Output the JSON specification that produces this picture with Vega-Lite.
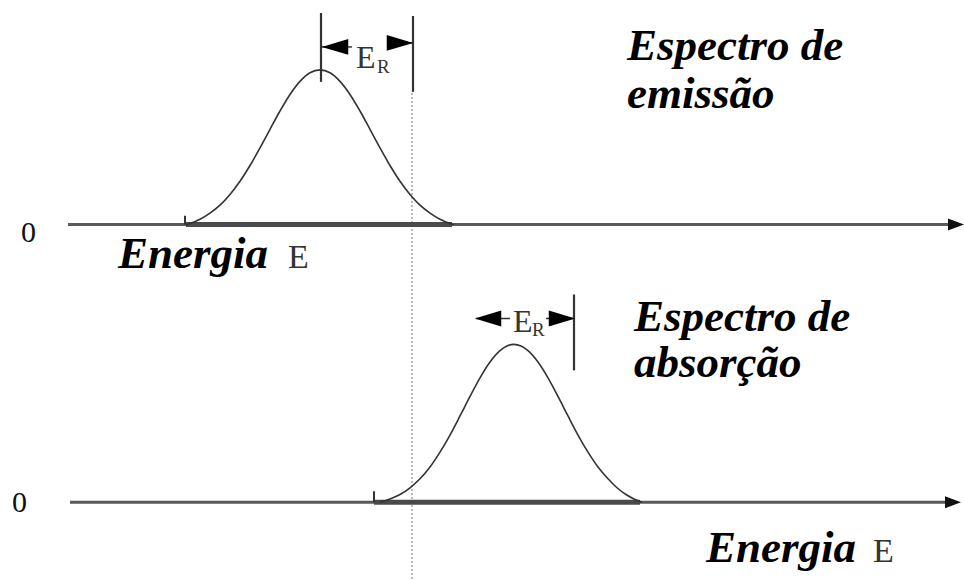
{
  "$schema": "https://vega.github.io/schema/vega-lite/v6.json",
  "width": 964,
  "height": 580,
  "padding": 0,
  "autosize": {"type": "fit", "contains": "padding"},
  "background": "white",
  "config": {"view": {"stroke": null}},
  "datasets": {
    "eixos": [
      {"x": 68, "x2": 950, "y": 355},
      {"x": 70, "x2": 948, "y": 77}
    ],
    "faixas": [
      {"x": 186, "x2": 452, "y": 355},
      {"x": 374, "x2": 640, "y": 77}
    ],
    "pontas_eixo": [
      {"x": 956, "y": 355},
      {"x": 953, "y": 77}
    ],
    "ganchos": [
      {"x": 185, "y": 355, "y2": 364},
      {"x": 374, "y": 77, "y2": 88}
    ],
    "curvas": [
      {"espectro": "emissão", "x": 186, "y": 355},
      {"espectro": "emissão", "x": 190, "y": 356.2},
      {"espectro": "emissão", "x": 200, "y": 360.4},
      {"espectro": "emissão", "x": 210, "y": 366.5},
      {"espectro": "emissão", "x": 220, "y": 374.5},
      {"espectro": "emissão", "x": 230, "y": 385.2},
      {"espectro": "emissão", "x": 240, "y": 398.4},
      {"espectro": "emissão", "x": 250, "y": 414.2},
      {"espectro": "emissão", "x": 260, "y": 431.9},
      {"espectro": "emissão", "x": 270, "y": 450.5},
      {"espectro": "emissão", "x": 280, "y": 468.8},
      {"espectro": "emissão", "x": 290, "y": 485.4},
      {"espectro": "emissão", "x": 300, "y": 498.5},
      {"espectro": "emissão", "x": 310, "y": 507.1},
      {"espectro": "emissão", "x": 320, "y": 510},
      {"espectro": "emissão", "x": 330, "y": 507.1},
      {"espectro": "emissão", "x": 340, "y": 498.5},
      {"espectro": "emissão", "x": 350, "y": 485.4},
      {"espectro": "emissão", "x": 360, "y": 468.8},
      {"espectro": "emissão", "x": 370, "y": 450.5},
      {"espectro": "emissão", "x": 380, "y": 431.9},
      {"espectro": "emissão", "x": 390, "y": 414.2},
      {"espectro": "emissão", "x": 400, "y": 398.4},
      {"espectro": "emissão", "x": 410, "y": 385.2},
      {"espectro": "emissão", "x": 420, "y": 374.5},
      {"espectro": "emissão", "x": 430, "y": 366.5},
      {"espectro": "emissão", "x": 440, "y": 360.4},
      {"espectro": "emissão", "x": 450, "y": 356.2},
      {"espectro": "emissão", "x": 454, "y": 355},
      {"espectro": "absorção", "x": 380, "y": 77},
      {"espectro": "absorção", "x": 390, "y": 80.2},
      {"espectro": "absorção", "x": 400, "y": 84.6},
      {"espectro": "absorção", "x": 410, "y": 91.4},
      {"espectro": "absorção", "x": 420, "y": 100.4},
      {"espectro": "absorção", "x": 430, "y": 112.2},
      {"espectro": "absorção", "x": 440, "y": 127.1},
      {"espectro": "absorção", "x": 450, "y": 144.2},
      {"espectro": "absorção", "x": 460, "y": 163.3},
      {"espectro": "absorção", "x": 470, "y": 182.9},
      {"espectro": "absorção", "x": 480, "y": 201.5},
      {"espectro": "absorção", "x": 490, "y": 217.3},
      {"espectro": "absorção", "x": 500, "y": 228.7},
      {"espectro": "absorção", "x": 507, "y": 233.4},
      {"espectro": "absorção", "x": 514, "y": 235},
      {"espectro": "absorção", "x": 521, "y": 233.4},
      {"espectro": "absorção", "x": 528, "y": 228.7},
      {"espectro": "absorção", "x": 538, "y": 217.3},
      {"espectro": "absorção", "x": 548, "y": 201.5},
      {"espectro": "absorção", "x": 558, "y": 182.9},
      {"espectro": "absorção", "x": 568, "y": 163.3},
      {"espectro": "absorção", "x": 578, "y": 144.2},
      {"espectro": "absorção", "x": 588, "y": 127.1},
      {"espectro": "absorção", "x": 598, "y": 112.2},
      {"espectro": "absorção", "x": 608, "y": 100.4},
      {"espectro": "absorção", "x": 617, "y": 91.4},
      {"espectro": "absorção", "x": 626, "y": 84.6},
      {"espectro": "absorção", "x": 634, "y": 80.2},
      {"espectro": "absorção", "x": 642, "y": 77}
    ],
    "verticais": [
      {"tipo": "sólida", "x": 321, "y": 498, "y2": 567},
      {"tipo": "sólida", "x": 413, "y": 488, "y2": 564},
      {"tipo": "sólida", "x": 574, "y": 209, "y2": 285},
      {"tipo": "pontilhada", "x": 412, "y": 0, "y2": 488}
    ],
    "hastes": [
      {"x": 321, "x2": 352, "y": 533},
      {"x": 387, "x2": 413, "y": 537},
      {"x": 476, "x2": 510, "y": 261},
      {"x": 546, "x2": 574, "y": 261}
    ],
    "setas": [
      {"sentido": "esquerda", "x": 335, "y": 533},
      {"sentido": "direita", "x": 400, "y": 537},
      {"sentido": "esquerda", "x": 488, "y": 261},
      {"sentido": "direita", "x": 562, "y": 261}
    ],
    "rotulos": [
      {"grupo": "título", "texto": "Espectro de", "x": 627, "y": 520},
      {"grupo": "título", "texto": "emissão", "x": 627, "y": 472},
      {"grupo": "título", "texto": "Espectro de", "x": 634, "y": 248},
      {"grupo": "título", "texto": "absorção", "x": 634, "y": 202},
      {"grupo": "título", "texto": "Energia", "x": 118, "y": 312},
      {"grupo": "título", "texto": "Energia", "x": 706, "y": 17},
      {"grupo": "unidade", "texto": "E", "x": 288, "y": 312},
      {"grupo": "unidade", "texto": "E", "x": 873, "y": 17},
      {"grupo": "zero", "texto": "0", "x": 21, "y": 338},
      {"grupo": "zero", "texto": "0", "x": 12, "y": 67},
      {"grupo": "er", "texto": "E", "x": 356, "y": 512},
      {"grupo": "er", "texto": "E", "x": 513, "y": 247},
      {"grupo": "índice", "texto": "R", "x": 377, "y": 507},
      {"grupo": "índice", "texto": "R", "x": 532, "y": 243}
    ]
  },
  "encoding": {
    "x": {"field": "x", "type": "quantitative", "scale": {"domain": [0, 964], "nice": false, "zero": false}, "axis": null},
    "y": {"field": "y", "type": "quantitative", "scale": {"domain": [0, 580], "nice": false, "zero": false}, "axis": null}
  },
  "layer": [
    {
      "data": {"name": "verticais"},
      "transform": [{"filter": "datum.tipo === 'pontilhada'"}],
      "mark": {"type": "rule", "color": "#aaaaaa", "strokeWidth": 1.6, "strokeDash": [2, 2]},
      "encoding": {"y2": {"field": "y2"}}
    },
    {
      "data": {"name": "eixos"},
      "mark": {"type": "rule", "color": "#5a5a5a", "strokeWidth": 3},
      "encoding": {"x2": {"field": "x2"}}
    },
    {
      "data": {"name": "faixas"},
      "mark": {"type": "rule", "color": "#4a4a4a", "strokeWidth": 5},
      "encoding": {"x2": {"field": "x2"}}
    },
    {
      "data": {"name": "pontas_eixo"},
      "mark": {"type": "point", "shape": "M-1,-0.75L1,0L-1,0.75Z", "size": 256, "filled": true, "color": "#111111", "opacity": 1, "strokeWidth": 0}
    },
    {
      "data": {"name": "ganchos"},
      "mark": {"type": "rule", "color": "#333333", "strokeWidth": 2},
      "encoding": {"y2": {"field": "y2"}}
    },
    {
      "data": {"name": "curvas"},
      "mark": {"type": "line", "color": "#333333", "strokeWidth": 1.6, "interpolate": "monotone"},
      "encoding": {"detail": {"field": "espectro"}}
    },
    {
      "data": {"name": "verticais"},
      "transform": [{"filter": "datum.tipo === 'sólida'"}],
      "mark": {"type": "rule", "color": "#333333", "strokeWidth": 2.2},
      "encoding": {"y2": {"field": "y2"}}
    },
    {
      "data": {"name": "hastes"},
      "mark": {"type": "rule", "color": "#333333", "strokeWidth": 1.5},
      "encoding": {"x2": {"field": "x2"}}
    },
    {
      "data": {"name": "setas"},
      "transform": [{"filter": "datum.sentido === 'esquerda'"}],
      "mark": {"type": "point", "shape": "M1,-0.6L-1,0L1,0.6Z", "size": 700, "filled": true, "color": "#000000", "opacity": 1, "strokeWidth": 0}
    },
    {
      "data": {"name": "setas"},
      "transform": [{"filter": "datum.sentido === 'direita'"}],
      "mark": {"type": "point", "shape": "M-1,-0.6L1,0L-1,0.6Z", "size": 700, "filled": true, "color": "#000000", "opacity": 1, "strokeWidth": 0}
    },
    {
      "data": {"name": "rotulos"},
      "transform": [{"filter": "datum.grupo === 'título'"}],
      "mark": {"type": "text", "align": "left", "baseline": "alphabetic", "font": "Liberation Serif", "fontSize": 45, "fontStyle": "italic", "fontWeight": "bold", "color": "#000000"},
      "encoding": {"text": {"field": "texto"}}
    },
    {
      "data": {"name": "rotulos"},
      "transform": [{"filter": "datum.grupo === 'unidade'"}],
      "mark": {"type": "text", "align": "left", "baseline": "alphabetic", "font": "Liberation Serif", "fontSize": 34, "color": "#333333"},
      "encoding": {"text": {"field": "texto"}}
    },
    {
      "data": {"name": "rotulos"},
      "transform": [{"filter": "datum.grupo === 'zero'"}],
      "mark": {"type": "text", "align": "left", "baseline": "alphabetic", "font": "Liberation Serif", "fontSize": 30, "color": "#111111"},
      "encoding": {"text": {"field": "texto"}}
    },
    {
      "data": {"name": "rotulos"},
      "transform": [{"filter": "datum.grupo === 'er'"}],
      "mark": {"type": "text", "align": "left", "baseline": "alphabetic", "font": "Liberation Serif", "fontSize": 32, "color": "#333333"},
      "encoding": {"text": {"field": "texto"}}
    },
    {
      "data": {"name": "rotulos"},
      "transform": [{"filter": "datum.grupo === 'índice'"}],
      "mark": {"type": "text", "align": "left", "baseline": "alphabetic", "font": "Liberation Serif", "fontSize": 19, "color": "#333333"},
      "encoding": {"text": {"field": "texto"}}
    }
  ]
}
